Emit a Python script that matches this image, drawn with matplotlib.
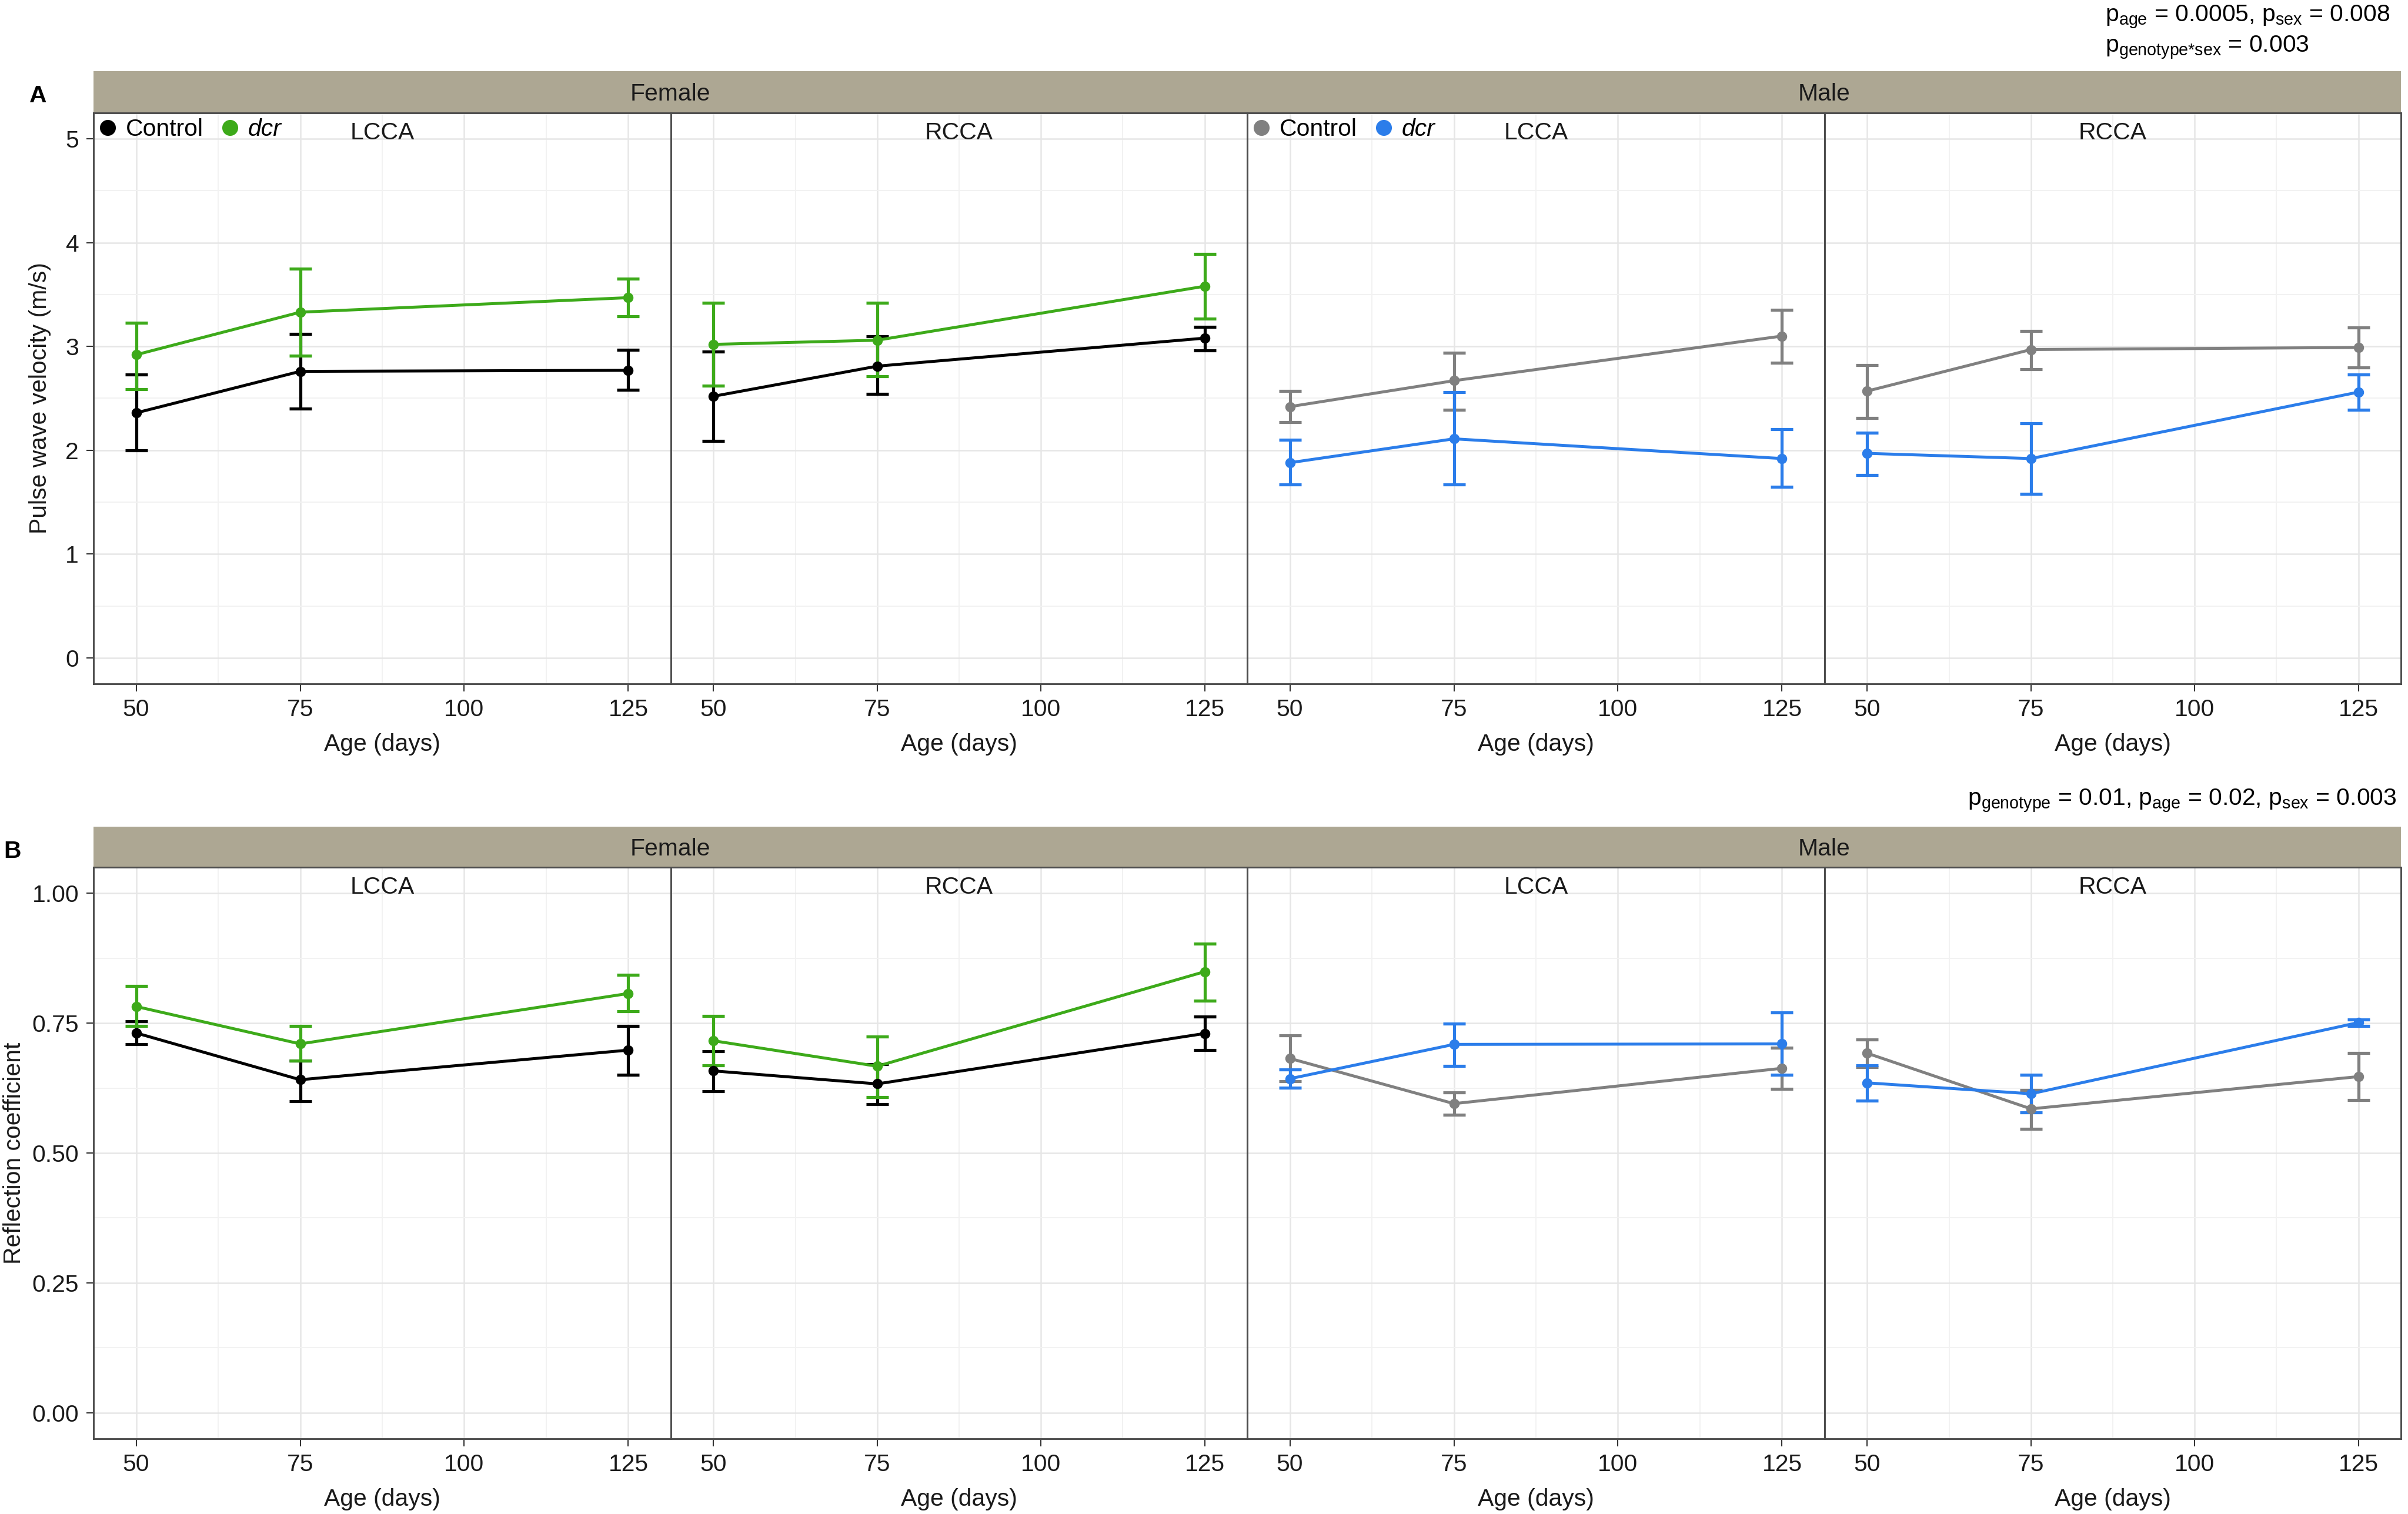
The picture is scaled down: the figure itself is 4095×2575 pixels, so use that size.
import matplotlib
matplotlib.use("Agg")
from matplotlib import pyplot as plt
from matplotlib.lines import Line2D

plt.rcParams['font.family'] = ['Liberation Sans', 'DejaVu Sans']
plt.rcParams['mathtext.fontset'] = 'custom'
plt.rcParams['mathtext.rm'] = 'Liberation Sans'
plt.rcParams['mathtext.it'] = 'Liberation Sans:italic'

ages = [50, 75, 125]
sexes = ['Female', 'Male']
arteries = ['LCCA', 'RCCA']

# panel A: pulse wave velocity (m/s), mean with lower / upper error
pwv_mean = {
    ('Female', 'LCCA', 'Control'): [2.36, 2.76, 2.77],
    ('Female', 'LCCA', 'dcr'): [2.92, 3.33, 3.47],
    ('Female', 'RCCA', 'Control'): [2.52, 2.81, 3.08],
    ('Female', 'RCCA', 'dcr'): [3.02, 3.06, 3.58],
    ('Male', 'LCCA', 'Control'): [2.42, 2.67, 3.10],
    ('Male', 'LCCA', 'dcr'): [1.88, 2.11, 1.92],
    ('Male', 'RCCA', 'Control'): [2.57, 2.97, 2.99],
    ('Male', 'RCCA', 'dcr'): [1.97, 1.92, 2.56],
}
pwv_low = {
    ('Female', 'LCCA', 'Control'): [2.00, 2.40, 2.58],
    ('Female', 'LCCA', 'dcr'): [2.59, 2.91, 3.29],
    ('Female', 'RCCA', 'Control'): [2.09, 2.54, 2.96],
    ('Female', 'RCCA', 'dcr'): [2.62, 2.71, 3.27],
    ('Male', 'LCCA', 'Control'): [2.27, 2.39, 2.84],
    ('Male', 'LCCA', 'dcr'): [1.67, 1.67, 1.65],
    ('Male', 'RCCA', 'Control'): [2.31, 2.78, 2.80],
    ('Male', 'RCCA', 'dcr'): [1.76, 1.58, 2.39],
}
pwv_high = {
    ('Female', 'LCCA', 'Control'): [2.73, 3.12, 2.97],
    ('Female', 'LCCA', 'dcr'): [3.23, 3.75, 3.65],
    ('Female', 'RCCA', 'Control'): [2.95, 3.10, 3.19],
    ('Female', 'RCCA', 'dcr'): [3.42, 3.42, 3.89],
    ('Male', 'LCCA', 'Control'): [2.57, 2.94, 3.35],
    ('Male', 'LCCA', 'dcr'): [2.10, 2.56, 2.20],
    ('Male', 'RCCA', 'Control'): [2.82, 3.15, 3.18],
    ('Male', 'RCCA', 'dcr'): [2.17, 2.26, 2.73],
}

# panel B: reflection coefficient
rc_mean = {
    ('Female', 'LCCA', 'Control'): [0.731, 0.641, 0.698],
    ('Female', 'LCCA', 'dcr'): [0.782, 0.710, 0.807],
    ('Female', 'RCCA', 'Control'): [0.658, 0.633, 0.730],
    ('Female', 'RCCA', 'dcr'): [0.716, 0.667, 0.849],
    ('Male', 'LCCA', 'Control'): [0.682, 0.595, 0.663],
    ('Male', 'LCCA', 'dcr'): [0.643, 0.709, 0.710],
    ('Male', 'RCCA', 'Control'): [0.692, 0.585, 0.647],
    ('Male', 'RCCA', 'dcr'): [0.635, 0.614, 0.751],
}
rc_low = {
    ('Female', 'LCCA', 'Control'): [0.709, 0.600, 0.651],
    ('Female', 'LCCA', 'dcr'): [0.745, 0.678, 0.773],
    ('Female', 'RCCA', 'Control'): [0.619, 0.594, 0.698],
    ('Female', 'RCCA', 'dcr'): [0.669, 0.608, 0.793],
    ('Male', 'LCCA', 'Control'): [0.638, 0.573, 0.623],
    ('Male', 'LCCA', 'dcr'): [0.626, 0.667, 0.651],
    ('Male', 'RCCA', 'Control'): [0.665, 0.546, 0.602],
    ('Male', 'RCCA', 'dcr'): [0.601, 0.578, 0.744],
}
rc_high = {
    ('Female', 'LCCA', 'Control'): [0.754, 0.678, 0.744],
    ('Female', 'LCCA', 'dcr'): [0.821, 0.744, 0.843],
    ('Female', 'RCCA', 'Control'): [0.696, 0.671, 0.762],
    ('Female', 'RCCA', 'dcr'): [0.764, 0.724, 0.903],
    ('Male', 'LCCA', 'Control'): [0.726, 0.616, 0.703],
    ('Male', 'LCCA', 'dcr'): [0.661, 0.749, 0.770],
    ('Male', 'RCCA', 'Control'): [0.718, 0.621, 0.692],
    ('Male', 'RCCA', 'dcr'): [0.669, 0.650, 0.757],
}

colors = {
    ('Female', 'Control'): '#000000',
    ('Female', 'dcr'): '#3DAA1A',
    ('Male', 'Control'): '#808080',
    ('Male', 'dcr'): '#2B7DEA',
}

W, H = 4095, 2575
edges = [159, 1141, 2121, 3103, 4083]
rows = [
    dict(top=192, bottom=1163, strip=121, mean=pwv_mean, low=pwv_low, high=pwv_high,
         ylim=(-0.25, 5.25), yticks=[0, 1, 2, 3, 4, 5], yfmt='{:g}',
         ylabel='Pulse wave velocity (m/s)', ylab_x=68, letter='A', letter_x=65, legend=True),
    dict(top=1475, bottom=2447, strip=1406, mean=rc_mean, low=rc_low, high=rc_high,
         ylim=(-0.05, 1.05), yticks=[0, 0.25, 0.5, 0.75, 1.0], yfmt='{:.2f}',
         ylabel='Reflection coefficient', ylab_x=24, letter='B', letter_x=21, legend=False),
]

fs = 9.8
fig = plt.figure(figsize=(W / 300, H / 300), dpi=300)


def box(x0, y0, x1, y1):
    # pixel box (top-left origin) -> figure fraction rect
    return [x0 / W, 1 - y1 / H, (x1 - x0) / W, (y1 - y0) / H]


for r in rows:
    for k, sex in enumerate(sexes):
        sax = fig.add_axes(box(edges[2 * k], r['strip'], edges[2 * k + 2], r['top']))
        sax.set_facecolor('#ADA793')
        sax.set_xticks([])
        sax.set_yticks([])
        for sp in sax.spines.values():
            sp.set_visible(False)
        sax.text(0.5, 0.45, sex, ha='center', va='center', fontsize=fs, color='#1a1a1a',
                 transform=sax.transAxes)

    for i in range(4):
        sex = sexes[i // 2]
        art = arteries[i % 2]
        ax = fig.add_axes(box(edges[i], r['top'], edges[i + 1], r['bottom']))
        ax.set_xlim(43.5, 131.5)
        ax.set_ylim(*r['ylim'])
        ax.set_xticks([50, 75, 100, 125])
        ax.set_xticks([62.5, 87.5, 112.5], minor=True)
        ax.set_yticks(r['yticks'])
        yt = r['yticks']
        ax.set_yticks([(a + b) / 2 for a, b in zip(yt[:-1], yt[1:])], minor=True)
        ax.grid(which='major', color='#E6E6E6', lw=0.6)
        ax.grid(which='minor', color='#F2F2F2', lw=0.45)
        ax.set_axisbelow(True)
        for sp in ax.spines.values():
            sp.set_color('#4d4d4d')
            sp.set_linewidth(0.7)
        ax.tick_params(which='major', length=3, width=0.5, color='#333333', pad=3,
                       labelsize=fs, labelcolor='#1a1a1a')
        ax.tick_params(which='minor', length=0)
        if i == 0:
            ax.set_yticklabels([r['yfmt'].format(v) for v in yt])
        else:
            ax.tick_params(axis='y', which='major', length=0, labelleft=False)
        ax.set_xlabel('Age (days)', fontsize=fs, labelpad=5, color='#1a1a1a')

        for geno in ['Control', 'dcr']:
            key = (sex, art, geno)
            c = colors[(sex, geno)]
            m = r['mean'][key]
            lo = [a - b for a, b in zip(m, r['low'][key])]
            hi = [b - a for a, b in zip(m, r['high'][key])]
            ax.errorbar(ages, m, yerr=[lo, hi], fmt='none', ecolor=c, elinewidth=1.25,
                        capsize=4.6, capthick=1.25, zorder=3)
            ax.plot(ages, m, color=c, lw=1.2, marker='o', ms=3.2, zorder=4)

        ax.text(0.5, 1 - 34 / 971, art, ha='center', va='center', fontsize=fs,
                color='#1a1a1a', transform=ax.transAxes)

        if r['legend'] and art == 'LCCA':
            handles = [Line2D([], [], ls='none', marker='o', ms=5.5, color=colors[(sex, g)])
                       for g in ['Control', 'dcr']]
            leg = ax.legend(handles, ['Control', 'dcr'], loc='center left',
                            bbox_to_anchor=(0.008, 1 - 28 / 971), ncol=2, frameon=False,
                            fontsize=fs, borderpad=0, borderaxespad=0, handlelength=0.8,
                            handletextpad=0.35, columnspacing=0.7)
            leg.get_texts()[1].set_style('italic')

    yc = (r['top'] + r['bottom']) / 2
    fig.text(r['ylab_x'] / W, 1 - yc / H, r['ylabel'], rotation=90, ha='center',
             va='center', fontsize=fs, color='#1a1a1a')
    fig.text(r['letter_x'] / W, 1 - (r['strip'] + 42) / H, r['letter'], ha='center',
             va='center', fontsize=fs, fontweight='bold')

fig.text(3580 / W, 1 - 28 / H, r'p$_{\mathrm{age}}$ = 0.0005, p$_{\mathrm{sex}}$ = 0.008',
         ha='left', va='center', fontsize=fs)
fig.text(3580 / W, 1 - 80 / H, r'p$_{\mathrm{genotype{*}sex}}$ = 0.003',
         ha='left', va='center', fontsize=fs)
fig.text(4075 / W, 1 - 1362 / H,
         r'p$_{\mathrm{genotype}}$ = 0.01, p$_{\mathrm{age}}$ = 0.02, p$_{\mathrm{sex}}$ = 0.003',
         ha='right', va='center', fontsize=fs)

fig.savefig('out.png', dpi=300, facecolor='white')
